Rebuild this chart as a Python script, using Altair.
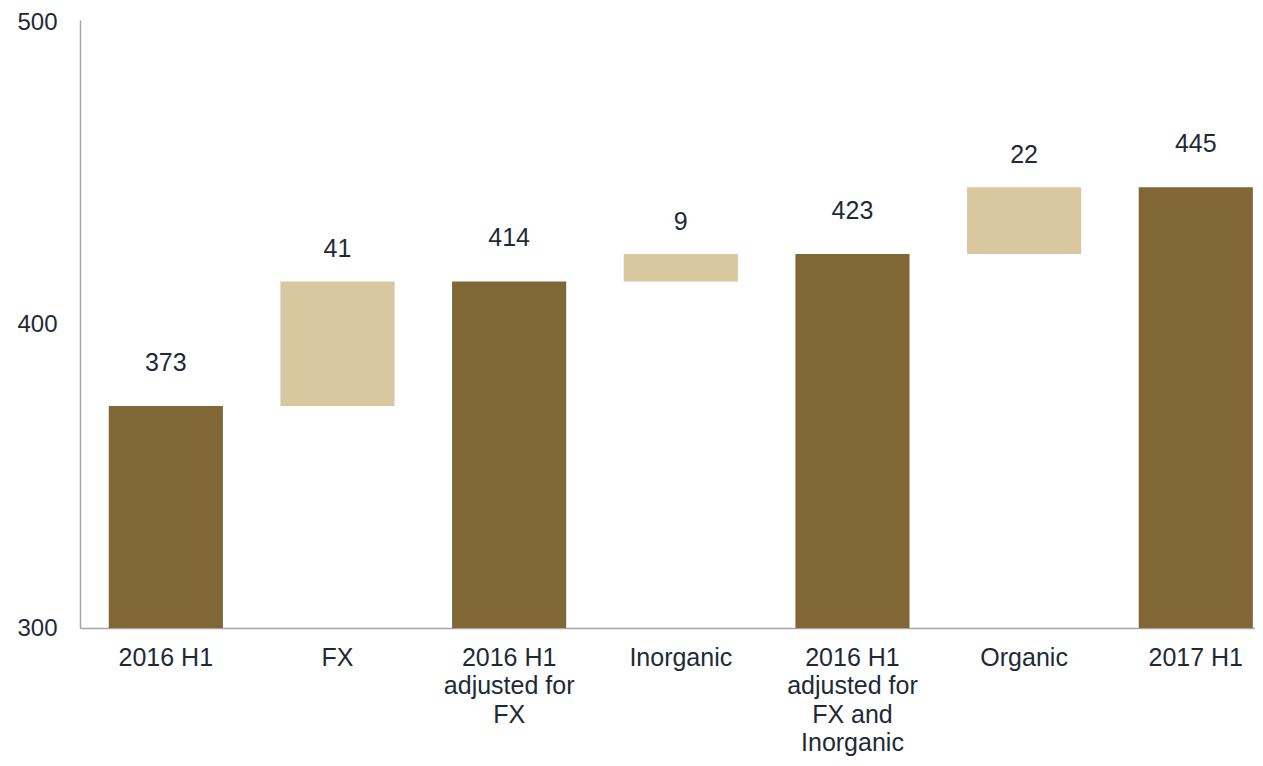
import altair as alt
import pandas as pd

# ---- data ----
categories = [
    "2016 H1",
    "FX",
    "2016 H1|adjusted for|FX",
    "Inorganic",
    "2016 H1|adjusted for|FX and|Inorganic",
    "Organic",
    "2017 H1",
]
values = [373, 41, 414, 9, 423, 22, 445]
kinds = ["total", "delta", "total", "delta", "total", "delta", "total"]
y_ticks = [300, 400, 500]

# ---- build waterfall table ----
rows = []
running = None
for cat, val, kind in zip(categories, values, kinds):
    if kind == "total":
        start, end = y_ticks[0], val
        running = val
    else:
        start, end = running, running + val
        running = end
    rows.append({"cat": cat, "start": start, "end": end, "value": val, "kind": kind})
df = pd.DataFrame(rows)

FONT = "Liberation Sans"
TEXT = "#1f2a38"
AXIS = "#a6a6a6"

x = alt.X(
    "cat:N",
    sort=categories,
    scale=alt.Scale(range=[0, 1201.6], paddingInner=0.335, paddingOuter=0.1675),
    axis=alt.Axis(
        title=None,
        labelAngle=0,
        labelExpr="split(datum.label, '|')",
        labelFontSize=25,
        labelLineHeight=28.5,
        labelPadding=17,
        labelColor=TEXT,
        labelFont=FONT,
        ticks=False,
        domainColor=AXIS,
        domainWidth=1.5,
        grid=False,
    ),
)

y_scale = alt.Scale(domain=[y_ticks[0], y_ticks[-1]], zero=False, nice=False)

bars = alt.Chart(df).mark_bar().encode(
    x=x,
    y=alt.Y(
        "start:Q",
        scale=y_scale,
        axis=alt.Axis(
            title=None,
            values=y_ticks,
            labelFontSize=24,
            labelPadding=23,
            labelOffset={"condition": {"test": f"datum.value == {y_ticks[-1]}", "value": 2}, "value": 0},
            labelColor=TEXT,
            labelFont=FONT,
            ticks=False,
            domainColor=AXIS,
            domainWidth=1.5,
            grid=False,
        ),
    ),
    y2="end:Q",
    color=alt.Color(
        "kind:N",
        scale=alt.Scale(domain=["total", "delta"], range=["#826736", "#d9c7a0"]),
        legend=None,
    ),
)

labels_total = alt.Chart(df).transform_filter("datum.kind == 'total'").mark_text(
    fontSize=25, font=FONT, color=TEXT, baseline="middle", dy=-43
).encode(x=x, y=alt.Y("end:Q", scale=y_scale), text="value:Q")

labels_delta = alt.Chart(df).transform_filter("datum.kind == 'delta'").mark_text(
    fontSize=25, font=FONT, color=TEXT, baseline="middle", dy=-32
).encode(x=x, y=alt.Y("end:Q", scale=y_scale), text="value:Q")

chart = (
    alt.layer(bars, labels_total, labels_delta)
    .properties(
        width=1175,
        height=608,
        autosize=alt.AutoSizeParams(type="none"),
        padding={"left": 72, "top": 12, "right": 0, "bottom": 130},
    )
    .configure_view(stroke=None)
)

chart.save("out.html", embed_options={"renderer": "svg", "actions": False})
